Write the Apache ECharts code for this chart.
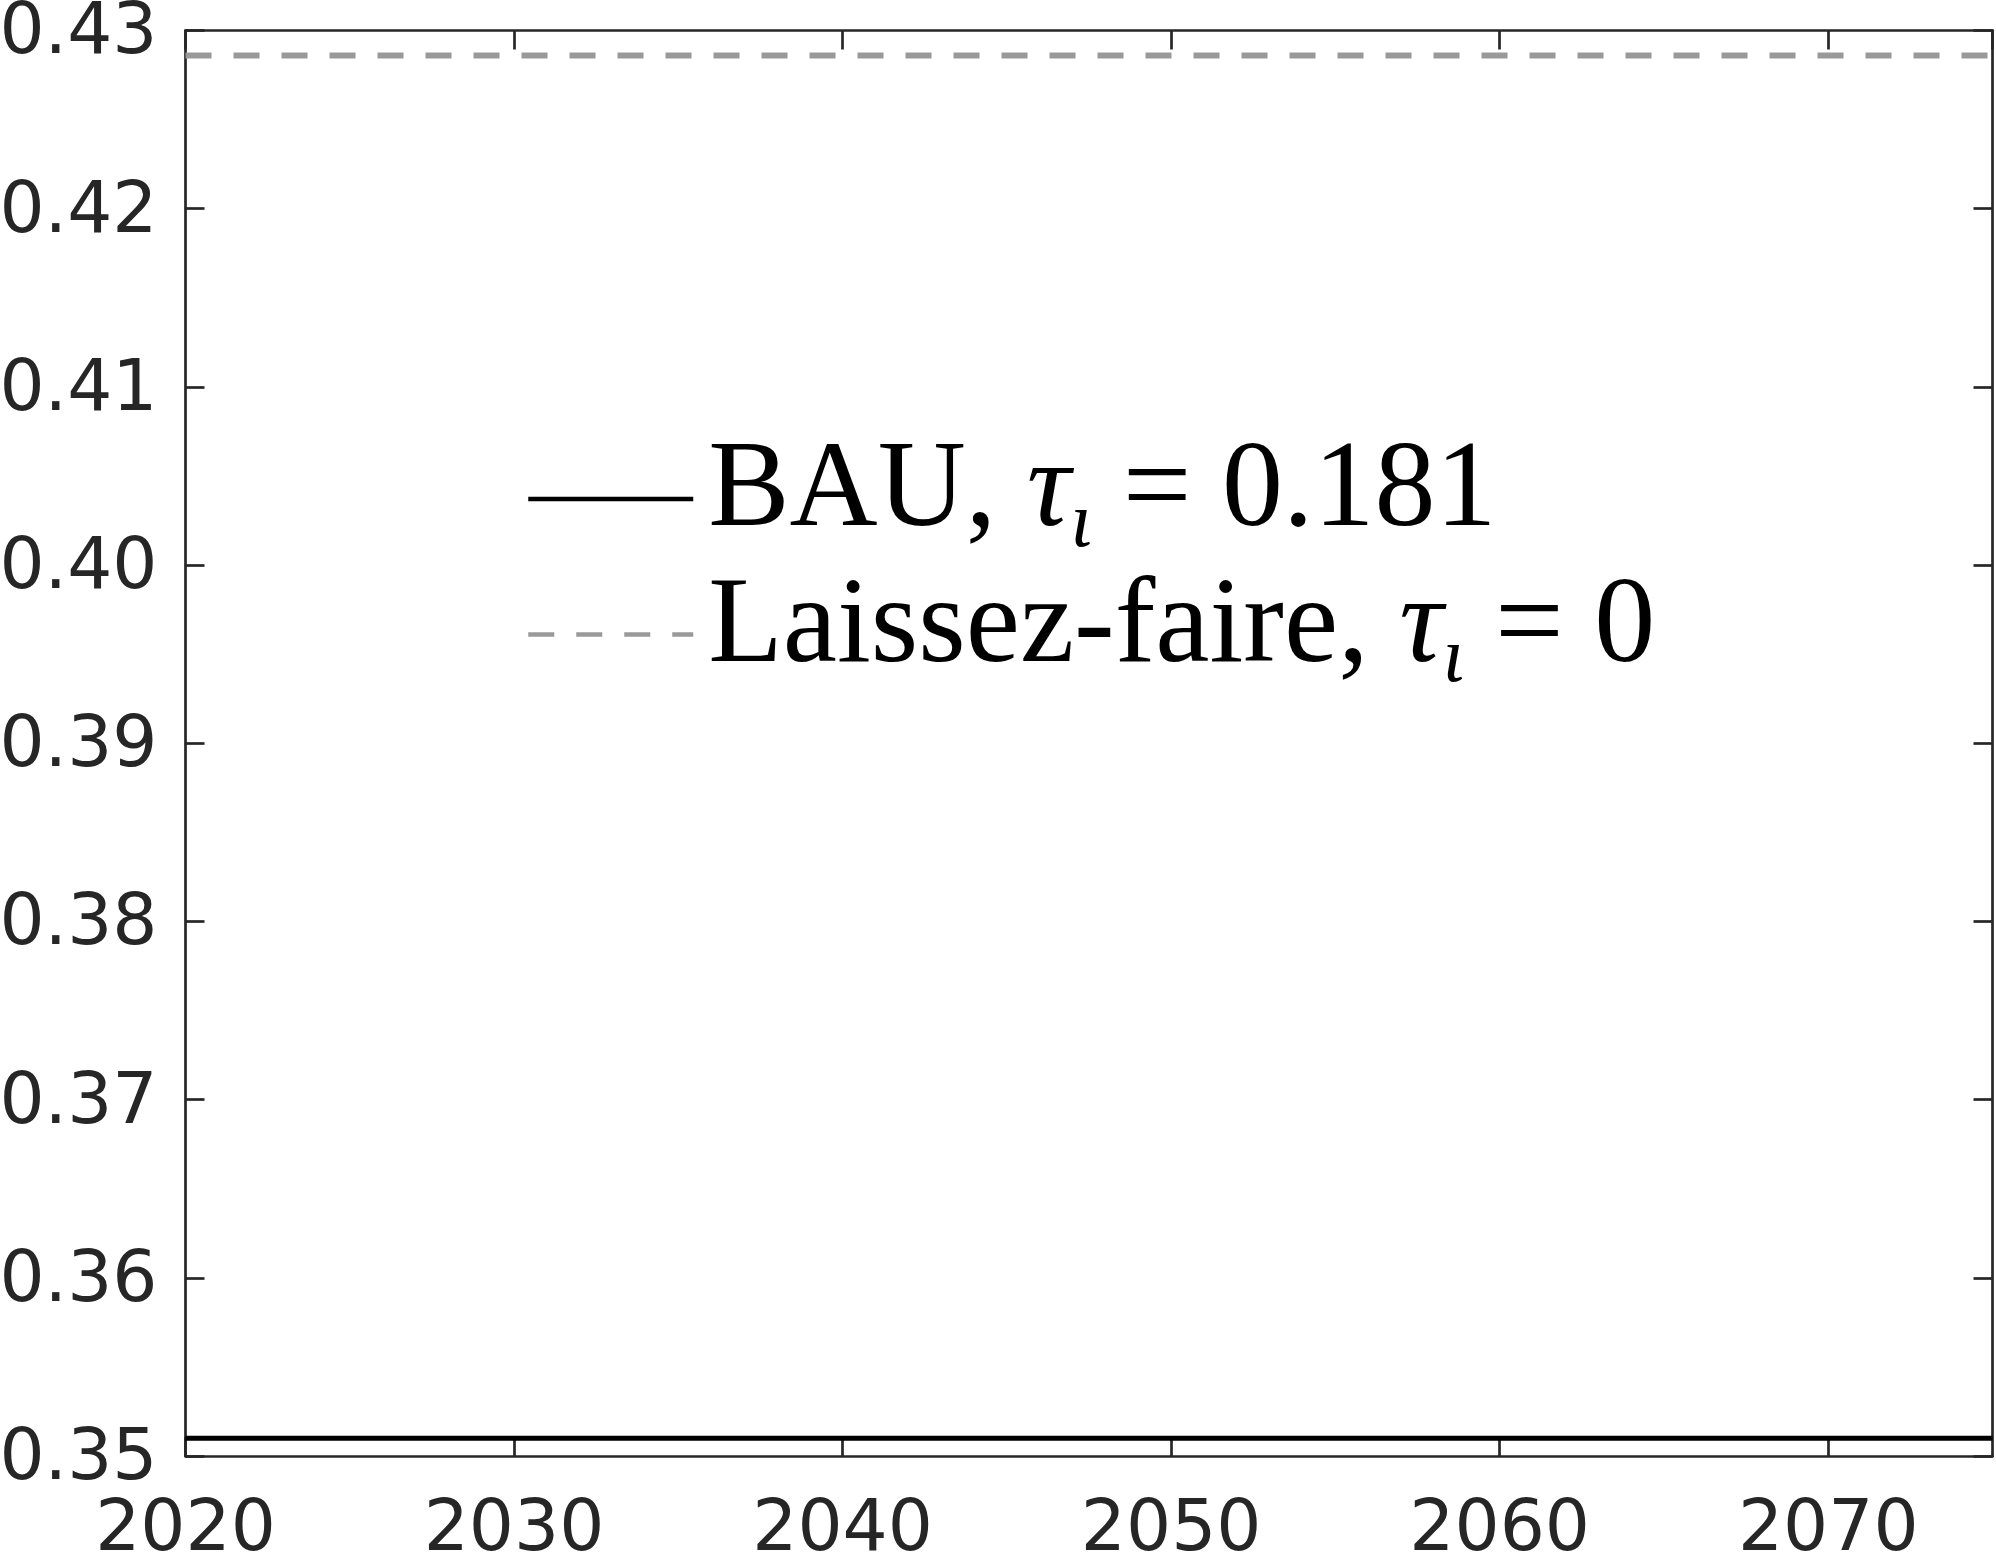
<!DOCTYPE html>
<html>
<head>
<meta charset="utf-8">
<script src="https://cdn.jsdelivr.net/npm/echarts@6/dist/echarts.min.js"></script>
<style>
html,body{margin:0;padding:0;background:#fff;}
#chart{width:1996px;height:1554px;}
</style>
</head>
<body>
<div id="chart"></div>
<script>
var years = [2020, 2025, 2030, 2035, 2040, 2045, 2050, 2055, 2060, 2065, 2070, 2075];
var bauValues = [0.351, 0.351, 0.351, 0.351, 0.351, 0.351, 0.351, 0.351, 0.351, 0.351, 0.351, 0.351];
var laissezValues = [0.4286, 0.4286, 0.4286, 0.4286, 0.4286, 0.4286, 0.4286, 0.4286, 0.4286, 0.4286, 0.4286, 0.4286];
var seriesNames = ['BAU', 'Laissez-faire'];
var legendLabels = {
  'BAU': 'BAU, {t|τ}{s|ι}{n| = 0.181}',
  'Laissez-faire': 'Laissez-faire, {t|τ}{s|ι}{n| = 0}'
};

function pairs(xs, ys) { return xs.map(function (x, i) { return [x, ys[i]]; }); }

var axisColor = '#262626';
var axisW = 2.7;
var tickFont = 'DejaVu Sans';
var legFont = 'Liberation Serif';
var legSize = 122;

var chart = echarts.init(document.getElementById('chart'), null, {renderer: 'canvas'});
chart.setOption({
  animation: false,
  backgroundColor: '#fff',
  grid: {left: 185.5, right: 3.5, top: 30.5, bottom: 98, containLabel: false, outerBoundsMode: 'none'},
  xAxis: [{
    type: 'value', min: 2020, max: 2075, interval: 10, position: 'bottom',
    axisLine: {show: true, lineStyle: {color: axisColor, width: axisW}},
    axisTick: {show: true, inside: true, length: 19, lineStyle: {color: axisColor, width: axisW}},
    axisLabel: {show: true, showMaxLabel: false, margin: 40, color: axisColor, fontFamily: tickFont, fontSize: 71,
      formatter: function (v) { return String(v); }},
    splitLine: {show: false}
  }, {
    type: 'value', min: 2020, max: 2075, interval: 10, position: 'top',
    axisLine: {show: true, lineStyle: {color: axisColor, width: axisW}},
    axisTick: {show: true, inside: true, length: 19, lineStyle: {color: axisColor, width: axisW}},
    axisLabel: {show: false},
    splitLine: {show: false}
  }],
  yAxis: [{
    type: 'value', min: 0.35, max: 0.43, interval: 0.01, position: 'left',
    axisLine: {show: true, lineStyle: {color: axisColor, width: axisW}},
    axisTick: {show: true, inside: true, length: 19, lineStyle: {color: axisColor, width: axisW}},
    axisLabel: {show: true, margin: 28, color: axisColor, fontFamily: tickFont, fontSize: 71,
      formatter: function (v) { return '{a|' + v.toFixed(2) + '}'; },
      rich: {a: {color: axisColor, fontFamily: tickFont, fontSize: 71, lineHeight: 71, padding: [9, 0, 0, 0]}}},
    splitLine: {show: false}
  }, {
    type: 'value', min: 0.35, max: 0.43, interval: 0.01, position: 'right',
    axisLine: {show: true, lineStyle: {color: axisColor, width: axisW}},
    axisTick: {show: true, inside: true, length: 19, lineStyle: {color: axisColor, width: axisW}},
    axisLabel: {show: false},
    splitLine: {show: false}
  }],
  legend: {
    show: true,
    orient: 'vertical',
    left: 526,
    top: 422,
    itemWidth: 165,
    itemHeight: 30,
    itemGap: -6.5,
    padding: 0,
    data: seriesNames,
    formatter: function (name) { return legendLabels[name]; },
    itemStyle: {color: 'rgba(0,0,0,0)', borderWidth: 0, opacity: 0},
    lineStyle: {width: 4.5},
    textStyle: {
      color: '#000',
      fontFamily: legFont,
      fontSize: legSize,
      lineHeight: 118,
      padding: [0, 0, 12, 10],
      rich: {
        t: {fontFamily: legFont, fontStyle: 'italic', fontSize: legSize, lineHeight: 118, color: '#000'},
        s: {fontFamily: legFont, fontStyle: 'italic', fontSize: 78, lineHeight: 50, color: '#000', padding: [64, 0, 0, 0]},
        n: {fontFamily: legFont, fontSize: legSize, lineHeight: 118, color: '#000'}
      }
    }
  },
  series: [{
    name: seriesNames[0], type: 'line', xAxisIndex: 0, yAxisIndex: 0,
    data: pairs(years, bauValues), showSymbol: false, symbol: 'none',
    lineStyle: {color: '#000', width: 5, type: 'solid'},
    itemStyle: {color: '#000'}
  }, {
    name: seriesNames[1], type: 'line', xAxisIndex: 0, yAxisIndex: 0,
    data: pairs(years, laissezValues), showSymbol: false, symbol: 'none',
    lineStyle: {color: '#999999', width: 6, type: [26, 22]},
    itemStyle: {color: '#999999'}
  }]
});
</script>
</body>
</html>
